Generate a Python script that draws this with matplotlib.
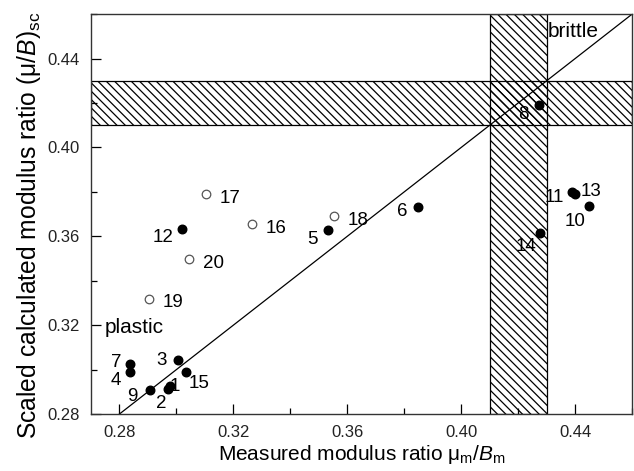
import matplotlib
matplotlib.use('Agg')
import matplotlib.pyplot as plt
from matplotlib.ticker import MultipleLocator

plt.rcParams['font.family'] = ['Liberation Sans', 'DejaVu Sans']
plt.rcParams['mathtext.fontset'] = 'custom'
plt.rcParams['mathtext.rm'] = 'Liberation Sans'
plt.rcParams['mathtext.it'] = 'Liberation Sans:italic'
plt.rcParams['hatch.linewidth'] = 0.9

# filled symbols
filled_ids = ['1', '2', '3', '4', '5', '6', '7', '8', '9', '10',
              '11', '12', '13', '14', '15']
filled_x = [0.2976, 0.2969, 0.3007, 0.2838, 0.3532, 0.3849, 0.2838, 0.4274,
            0.2906, 0.4450, 0.4390, 0.3018, 0.4401, 0.4278, 0.3034]
filled_y = [0.2924, 0.2913, 0.3044, 0.2991, 0.3627, 0.3730, 0.3025, 0.4189,
            0.2908, 0.3735, 0.3798, 0.3631, 0.3789, 0.3613, 0.2990]

# open symbols
open_ids = ['16', '17', '18', '19', '20']
open_x = [0.3264, 0.3103, 0.3553, 0.2902, 0.3043]
open_y = [0.3654, 0.3789, 0.3690, 0.3317, 0.3497]

# label offsets in points (dx, dy)
label_off = {
    '1': (0, -3), '2': (-8, -14), '3': (-16, -4), '4': (-14, -10),
    '5': (-15, -10), '6': (-15, -6), '7': (-14, -2), '8': (-15, -10),
    '9': (-16, -8), '10': (-18, -14), '11': (-20, -7), '12': (-21, -9),
    '13': (4, -1), '14': (-18, -13), '15': (2, -12),
    '16': (10, -6), '17': (10, -6), '18': (10, -6), '19': (10, -6),
    '20': (10, -6),
}

diag = [0.28, 0.46]
band = [0.41, 0.43]

fig = plt.figure(figsize=(6.34, 4.71), dpi=100)
ax = fig.add_axes([0.1435, 0.121, 0.8535, 0.849])

ax.axhspan(band[0], band[1], facecolor='white', edgecolor='black',
           hatch='\\\\\\\\', linewidth=0.9, zorder=1)
ax.axvspan(band[0], band[1], facecolor='none', edgecolor='black',
           hatch='\\\\\\\\', linewidth=0.9, zorder=1)

ax.plot(diag, diag, color='black', linewidth=0.9, zorder=2)

ax.scatter(filled_x, filled_y, s=38, color='black', zorder=3)
ax.scatter(open_x, open_y, s=38, facecolor='white', edgecolor='#555555',
           linewidth=0.9, zorder=3)

for name, x, y in zip(filled_ids + open_ids, filled_x + open_x,
                      filled_y + open_y):
    ax.annotate(name, (x, y), xytext=label_off[name],
                textcoords='offset points', fontsize=13.5, zorder=4)

ax.text(0.2747, 0.3165, 'plastic', fontsize=15)
ax.text(0.4303, 0.4495, 'brittle', fontsize=15)

ax.set_xlim(0.27, 0.46)
ax.set_ylim(0.28, 0.46)
ax.xaxis.set_minor_locator(MultipleLocator(0.02))
ax.yaxis.set_minor_locator(MultipleLocator(0.02))
ax.set_xticks([0.28, 0.32, 0.36, 0.40, 0.44])
ax.set_yticks([0.28, 0.32, 0.36, 0.40, 0.44])
ax.set_xticklabels(['0.28', '0.32', '0.36', '0.40', '0.44'])
ax.set_yticklabels(['0.28', '0.32', '0.36', '0.40', '0.44'])
ax.tick_params(which='major', direction='in', length=7, width=0.9,
               labelsize=12, colors='black', labelcolor='#222222', pad=8)
ax.tick_params(which='minor', direction='in', length=4, width=0.9)
for s in ax.spines.values():
    s.set_linewidth(1.0)
    s.set_color('#333333')

ax.set_xlabel('Measured modulus ratio μ$_{\\rm m}$/$B_{\\rm m}$', fontsize=15,
              labelpad=2)
ax.set_ylabel('Scaled calculated modulus ratio (μ/$B$)$_{\\rm sc}$',
              fontsize=17.7, labelpad=3)
ax.yaxis.label.set_y(0.4725)

fig.savefig('out.png', dpi=100)
